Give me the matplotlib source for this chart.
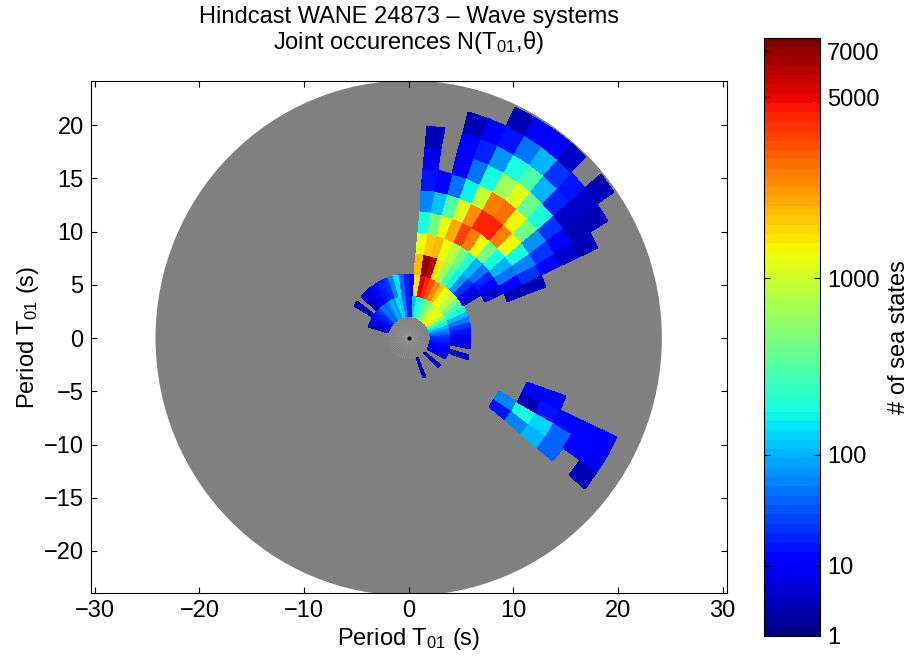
import numpy as np
import matplotlib.pyplot as plt
from matplotlib import colors
from matplotlib.patches import Circle

plt.rcParams['font.family'] = ['Liberation Sans', 'DejaVu Sans']
plt.rcParams['mathtext.default'] = 'regular'
plt.rcParams['font.size'] = 17

# joint occurences: period rings of 2 s, direction bins of 5 deg (anticlockwise from east)
# each ring -> list of (lower edge of first bin in deg, counts of consecutive bins)
ring_02 = [(-70, [3, 0, 0, 0, 0, 3, 0, 0,
                  4, 8, 10, 12, 15, 20,
                  25, 40, 60, 100, 180, 350, 700, 1100, 1200, 1100, 900, 700, 500, 350, 250, 200, 120, 15,
                  20, 50, 120, 150, 80, 100, 60, 40, 50, 30, 20, 15, 12, 6, 3])]
ring_04 = [(-20, [3, 0, 5, 8, 12, 15, 25, 50, 100, 200, 300, 500, 800, 1100, 1200, 1800, 2400, 3300, 4400, 5500, 1500,
                  8, 20, 40, 150, 60, 25, 20, 15, 12, 6, 4, 0, 3])]
ring_06 = [(20, [0, 0, 5, 12, 25, 80, 180, 350, 700, 1500, 6200, 7000, 2000])]
ring_08 = [(20, [0, 5, 12, 20, 50, 100, 250, 500, 800, 1200, 2000, 1800, 1200])]
ring_10 = [(20, [3, 12, 50, 100, 200, 500, 1200, 2800, 3600, 2200, 1200, 500, 200]),
           (-40, [15, 60, 0, 0])]
ring_12 = [(20, [3, 25, 60, 200, 1200, 2600, 4200, 4200, 2400, 1100, 350, 120, 60]),
           (-40, [60, 220, 3, 10])]
ring_14 = [(20, [0, 12, 25, 80, 500, 1400, 3000, 2800, 900, 180, 50, 12, 15]),
           (-40, [100, 130, 15, 12])]
ring_16 = [(20, [0, 5, 10, 25, 200, 450, 1100, 700, 200, 55, 12, 0, 7]),
           (-40, [45, 45, 12, 0])]
ring_18 = [(20, [0, 3, 3, 4, 20, 100, 350, 200, 80, 20, 10, 0, 3]),
           (-40, [0, 12, 12, 0])]
ring_20 = [(20, [0, 0, 3, 4, 15, 25, 100, 50, 15, 10, 3, 0, 0]),
           (-40, [3, 10, 10, 0])]
ring_22 = [(20, [0, 0, 0, 3, 0, 5, 10, 11, 3, 0, 0, 0, 0])]

rings = [(2, ring_02), (4, ring_04), (6, ring_06), (8, ring_08), (10, ring_10), (12, ring_12),
         (14, ring_14), (16, ring_16), (18, ring_18), (20, ring_20), (22, ring_22)]

cb_ticks = [1, 10, 100, 1000, 5000, 7000]
n_max = 7700

dr, dth = 2, 5
theta_edges = np.arange(-180, 181, dth)
r_edges = np.arange(0, 25, dr)
N = np.zeros((len(r_edges) - 1, len(theta_edges) - 1))
for r0, segs in rings:
    for th0, vals in segs:
        j = (th0 + 180) // dth
        N[r0 // dr, j:j + len(vals)] = vals

R, TH = np.meshgrid(r_edges, np.radians(theta_edges), indexing='ij')
X = R * np.cos(TH)
Y = R * np.sin(TH)

cmap = plt.get_cmap('jet', 64)
norm = colors.FuncNorm((lambda x: np.power(np.clip(x, 0, None), 0.2),
                        lambda x: np.power(x, 5)), vmin=1, vmax=n_max)

fig = plt.figure(figsize=(9.14, 6.64), dpi=100)
ax = fig.add_axes([0.0992, 0.1069, 0.6959, 0.7711])

ax.add_patch(Circle((0, 0), 24.2, facecolor='#808080', edgecolor='none', zorder=0))
# fine radial lines of the empty centre
for a in np.radians(np.arange(0, 360, 6)):
    ax.plot([0, 2 * np.cos(a)], [0, 2 * np.sin(a)], color='#9c9c9c', lw=0.25, zorder=1)
pc = ax.pcolormesh(X, Y, np.ma.masked_equal(N, 0), cmap=cmap, norm=norm,
                   shading='flat', edgecolors='none', zorder=2)
ax.plot(0, 0, 'k.', ms=4, zorder=3)

ax.set_xlim(-30.4, 30.4)
ax.set_ylim(-23.95, 24.15)
ax.set_xticks(np.arange(-30, 31, 10))
ax.set_yticks(np.arange(-20, 21, 5))
ax.tick_params(direction='in', top=True, right=True, length=4, width=0.8, pad=5)
for s in ax.spines.values():
    s.set_linewidth(0.8)
ax.set_xlabel('Period T$_{01}$ (s)', labelpad=3)
ax.set_ylabel('Period T$_{01}$ (s)', labelpad=2)
ax.set_title('Hindcast WANE 24873 – Wave systems\nJoint occurences N(T$_{01}$,θ)',
             fontsize=17, pad=23, linespacing=1.05)

cax = fig.add_axes([764.3 / 914, 28 / 664, 55.7 / 914, 598.3 / 664])
cb = fig.colorbar(pc, cax=cax)
cb.set_ticks(cb_ticks, labels=[str(t) for t in cb_ticks])
cb.ax.minorticks_off()
cb.ax.tick_params(direction='in', left=True, right=True, length=4, width=0.8, pad=5)
cb.outline.set_linewidth(0.8)
cb.set_label('# of sea states', labelpad=6)

fig.savefig('out.png', dpi=100)
